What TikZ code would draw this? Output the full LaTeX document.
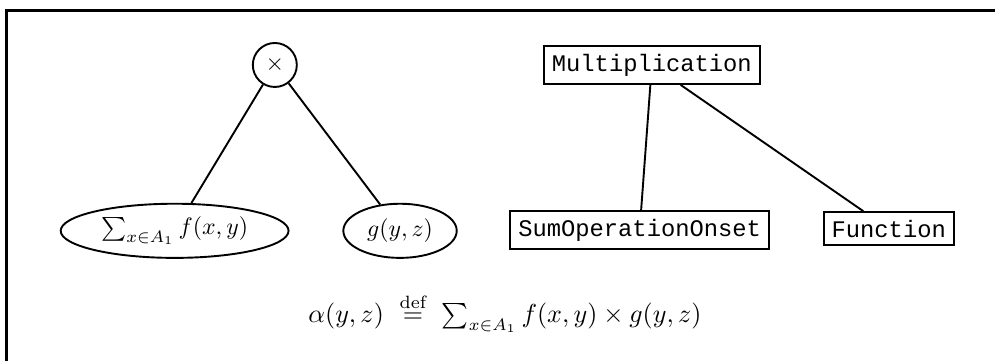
\documentclass[tikz,border=0pt]{standalone}
\usepackage{amsmath,amssymb}
\usepackage{fontspec}
\setmonofont{Liberation Mono}
\usepackage{tikz}
\usetikzlibrary{positioning,shapes.geometric}

\begin{document}
\begin{tikzpicture}[on grid,
  opnode/.style={draw, thick, circle, minimum size=0.65cm, inner sep=0pt},
  leafnode/.style={draw, thick, ellipse, inner xsep=3pt, inner ysep=1pt, minimum height=0.8cm},
  classbox/.style={draw, thick, font=\ttfamily}]
\useasboundingbox (0,0) rectangle (14.70,-5.32);
\draw[line width=1.2pt] (0.09,-0.15) rectangle (15.5,-6);
% expression tree
\node[opnode] (times) at (4.06,-0.96) {$\times$};
\node[leafnode, below left=2.45cm and 1.48cm of times] (sum) {$\sum_{x\in A_1} f(x,y)$};
\node[leafnode, below right=2.45cm and 1.85cm of times] (gfun) {$g(y,z)$};
\draw[thick] (times) -- (sum);
\draw[thick] (times) -- (gfun);
% class tree
\node[classbox, right=5.57cm of times] (mult) {Multiplication};
\node[classbox, below left=2.44cm and 0.18cm of mult] (sumop) {SumOperationOnset};
\node[classbox, below right=2.42cm and 3.5cm of mult] (func) {Function};
\draw[thick] (mult) -- (sumop);
\draw[thick] (mult) -- (func);
\node[font=\fontsize{10.7}{13}\selectfont] (defn) at (7.46,-4.62) {$\alpha(y,z)\ \stackrel{\text{def}}{=}\ \sum_{x\in A_1} f(x,y)\times g(y,z)$};
\end{tikzpicture}
\end{document}
